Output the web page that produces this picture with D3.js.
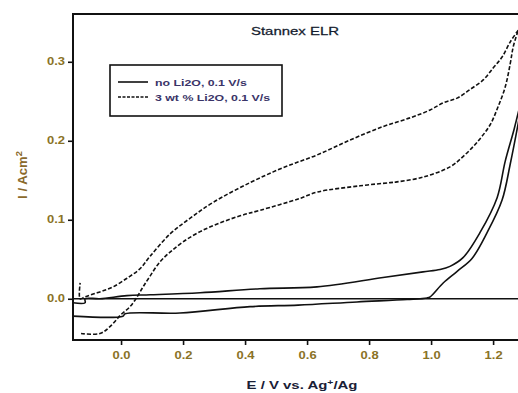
<!DOCTYPE html>
<html>
<head>
<meta charset="utf-8">
<script src="https://cdn.jsdelivr.net/npm/d3@7"></script>
<style>
  body { margin: 0; background: #fff; }
  svg { display: block; font-family: "Liberation Sans", Arial, sans-serif; }
</style>
</head>
<body>
<div id="chart"></div>
<script>
// E (V vs Ag+/Ag) and I (A/cm2)
var solidFwdE = [-0.155, 0.006, 0.013, 0.19, 0.416, 0.571, 0.761, 0.923, 0.987, 0.997, 1.039, 1.085, 1.132, 1.181, 1.229, 1.255, 1.281, 1.29];
var solidFwdI = [-0.022, -0.022, -0.019, -0.018, -0.010, -0.008, -0.004, -0.001, 0.001, 0.0025, 0.020, 0.035, 0.051, 0.084, 0.125, 0.170, 0.222, 0.242];
var solidRevE = [1.29, 1.268, 1.239, 1.213, 1.158, 1.103, 1.061, 1.029, 0.974, 0.845, 0.632, 0.448, 0.255, 0.094, 0.019, -0.068, -0.116, -0.116, -0.155];
var solidRevI = [0.25, 0.215, 0.174, 0.128, 0.084, 0.052, 0.041, 0.037, 0.034, 0.027, 0.015, 0.0127, 0.0076, 0.005, 0.004, 0.0, 0.0, -0.005, -0.005];

var dashFwdE = [-0.129, -0.068, -0.035, 0.0, 0.029, 0.052, 0.071, 0.094, 0.126, 0.158, 0.2, 0.255, 0.319, 0.384, 0.448, 0.577, 0.632, 0.771, 0.868, 0.890, 0.974, 1.061, 1.103, 1.148, 1.19, 1.216, 1.239, 1.255, 1.265, 1.281];
var dashFwdI = [-0.044, -0.044, -0.035, -0.020, -0.010, 0.0025, 0.015, 0.029, 0.047, 0.059, 0.072, 0.085, 0.096, 0.105, 0.112, 0.127, 0.135, 0.143, 0.147, 0.148, 0.154, 0.167, 0.180, 0.198, 0.220, 0.243, 0.268, 0.297, 0.319, 0.340];
var dashRevE = [1.281, 1.255, 1.229, 1.2, 1.168, 1.126, 1.084, 1.039, 0.997, 0.932, 0.845, 0.739, 0.632, 0.523, 0.416, 0.297, 0.223, 0.158, 0.094, 0.061, 0.019, -0.026, -0.058, -0.090, -0.116, -0.132, -0.132];
var dashRevI = [0.340, 0.325, 0.306, 0.292, 0.277, 0.265, 0.254, 0.248, 0.239, 0.229, 0.218, 0.201, 0.182, 0.166, 0.147, 0.122, 0.102, 0.082, 0.054, 0.038, 0.026, 0.015, 0.010, 0.006, 0.0025, 0.0, 0.02];

var xTicks = [0, 0.2, 0.4, 0.6, 0.8, 1.0, 1.2];
var yTicks = [0, 0.1, 0.2, 0.3];
var legendLabels = ["no Li2O, 0.1 V/s", "3 wt % Li2O, 0.1 V/s"];

var W = 518, H = 393;
var mLeft = 73, mTop = 14, mBottom = 340, mRight = 521;
var stretch = 1.3; // picture text is wider than tall

var svg = d3.select("#chart").append("svg")
    .attr("width", W)
    .attr("height", H);

var x = d3.scaleLinear().domain([-0.155, 1.29]).range([mLeft, mRight]);
var y = d3.scaleLinear().domain([-0.0522, 0.3605]).range([mBottom, mTop]);

svg.append("clipPath").attr("id", "plotclip")
  .append("rect")
    .attr("x", mLeft).attr("y", mTop)
    .attr("width", mRight - mLeft).attr("height", mBottom - mTop);

function pairs(es, is){
  var out = [];
  for (i = 0; i < es.length; i++){
    out.push([es[i], is[i]]);
  }
  return out;
}

var line = d3.line()
    .x(function(d){ return x(d[0]); })
    .y(function(d){ return y(d[1]); })
    .curve(d3.curveCatmullRom.alpha(0.5));

var plot = svg.append("g").attr("clip-path", "url(#plotclip)");

// zero line
plot.append("line")
    .attr("x1", x(-0.155)).attr("x2", x(1.29))
    .attr("y1", y(0)).attr("y2", y(0))
    .attr("stroke", "#111").attr("stroke-width", 1.3);

var curves = [
  {d: pairs(solidFwdE, solidFwdI), dash: null},
  {d: pairs(solidRevE, solidRevI), dash: null},
  {d: pairs(dashFwdE, dashFwdI), dash: "4,2"},
  {d: pairs(dashRevE, dashRevI), dash: "4,2"}
];
curves.forEach(function(c){
  plot.append("path")
      .attr("d", line(c.d))
      .attr("fill", "none")
      .attr("stroke", "#111")
      .attr("stroke-width", 1.6)
      .attr("stroke-dasharray", c.dash);
});

// axes
var yAxis = d3.axisLeft(y).tickValues(yTicks).tickFormat(d3.format(".1f")).tickSize(5).tickPadding(3);
var xAxis = d3.axisBottom(x).tickValues(xTicks).tickFormat(d3.format(".1f")).tickSize(5).tickPadding(7);

var gy = svg.append("g").attr("transform", "translate(" + mLeft + ",0)").call(yAxis);
var gx = svg.append("g").attr("transform", "translate(0," + mBottom + ")").call(xAxis);
[gy, gx].forEach(function(g){
  g.select(".domain").remove();
  g.selectAll(".tick line").attr("stroke", "#111").attr("stroke-width", 1.6);
  g.selectAll(".tick text")
      .attr("fill", "#8a7226")
      .attr("font-size", 10)
      .attr("font-weight", "bold")
      .attr("font-family", "Liberation Sans, Arial, sans-serif");
});
gy.selectAll(".tick text").attr("transform", "scale(" + stretch + ",1)").attr("x", -8 / stretch);
gx.selectAll(".tick text").attr("transform", "scale(" + stretch + ",1)");

// frame (right edge falls outside the picture)
svg.append("path")
    .attr("d", "M" + (W + 2) + "," + mTop + "H" + mLeft + "V" + mBottom + "H" + (W + 2))
    .attr("fill", "none")
    .attr("stroke", "#111")
    .attr("stroke-width", 2);

function stretchedText(px, py, size, color, weight, anchor){
  var g = svg.append("g").attr("transform", "translate(" + px + "," + py + ") scale(" + stretch + ",1)");
  return g.append("text")
      .attr("font-size", size)
      .attr("font-weight", weight)
      .attr("fill", color)
      .attr("text-anchor", anchor);
}

// title
stretchedText(295, 35, 11.5, "#141c2e", "normal", "middle")
    .attr("stroke", "#141c2e").attr("stroke-width", 0.25)
    .text("Stannex ELR");

// x label
var xl = stretchedText(302, 389, 11.5, "#1a2036", "bold", "middle");
xl.append("tspan").text("E / V vs. Ag");
xl.append("tspan").attr("dy", -4).attr("font-size", 8).text("+");
xl.append("tspan").attr("dy", 4).text("/Ag");

// y label
var ylg = svg.append("g").attr("transform", "translate(27,175) rotate(-90) scale(1.25,1.15)");
var yl = ylg.append("text")
    .attr("font-size", 10.5)
    .attr("font-weight", "bold")
    .attr("fill", "#8a6a2c")
    .attr("text-anchor", "middle");
yl.append("tspan").text("I / Acm");
yl.append("tspan").attr("dy", -4).attr("font-size", 7.5).text("2");

// legend
svg.append("rect")
    .attr("x", 110).attr("y", 65)
    .attr("width", 172).attr("height", 51)
    .attr("fill", "#fff")
    .attr("stroke", "#111")
    .attr("stroke-width", 1.6);

var legendDash = [null, "3,1.5"];
legendLabels.forEach(function(lab, k){
  var ly = 82 + k * 15;
  svg.append("line")
      .attr("x1", 118).attr("x2", 148)
      .attr("y1", ly).attr("y2", ly)
      .attr("stroke", "#111")
      .attr("stroke-width", 1.6)
      .attr("stroke-dasharray", legendDash[k]);
  stretchedText(155, ly + 3.5, 9.5, "#3a3468", "bold", "start").text(lab);
});
</script>
</body>
</html>
